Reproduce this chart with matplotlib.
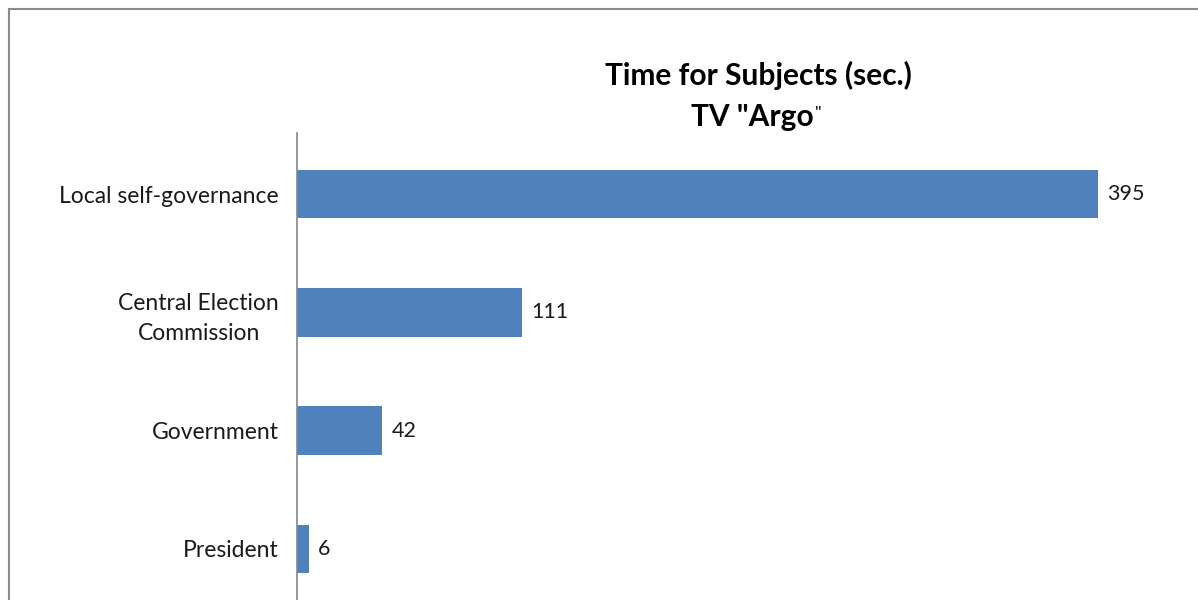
import matplotlib
matplotlib.use("Agg")
import matplotlib.pyplot as plt
from matplotlib.patches import Rectangle

categories = ["Local self-governance", "Central Election\nCommission", "Government", "President"]
values = [395, 111, 42, 6]

W, H = 1198, 600
fig = plt.figure(figsize=(W/100, H/100), dpi=100)
plt.rcParams['font.family'] = ['Lato', 'DejaVu Sans']

# outer chart border (partly cropped)
fig.patches.append(Rectangle((8.5/W, -0.1), 1.2, (H-8.5)/H + 0.1, transform=fig.transFigure,
                             fill=False, edgecolor='#8c8c8c', lw=1.5))

left, right = 297, 1180
top, bottom = 135, 608
ax = fig.add_axes([left/W, (H-bottom)/H, (right-left)/W, (bottom-top)/H])
scale = 2.028
ax.set_xlim(0, (right-left)/scale)
n = len(categories)
ypos = list(range(n))
ax.set_ylim(n-0.5, -0.5)
ax.barh(ypos, values, height=0.41, color='#4f81bd')
for y, v in zip(ypos, values):
    ax.text(v + 4.5, y, str(v), va='center', ha='left', fontsize=15.5, color='#1a1a1a')
ax.set_yticks(ypos)
ax.set_yticklabels(categories, fontsize=16.5, multialignment='center', color='#1a1a1a',
                   linespacing=1.5)
ax.tick_params(axis='y', length=0, pad=13)
ax.set_xticks([])
for s in ['top', 'right', 'bottom']:
    ax.spines[s].set_visible(False)
ax.spines['left'].set_color('#868686')
ax.spines['left'].set_linewidth(1.2)
ax.spines['left'].set_bounds(-0.52, n)

fig.text(758/W, 1-75/H, "Time for Subjects (sec.)", ha='center', va='center',
         fontsize=21.5, fontweight='bold', color='black')
fig.text(814/W, 1-117/H, 'TV "Argo', ha='right', va='center',
         fontsize=21.5, fontweight='bold', color='black')
fig.text(815/W, 1-114/H, '"', ha='left', va='center', fontsize=13, color='black')

fig.savefig("out.png", dpi=100)
